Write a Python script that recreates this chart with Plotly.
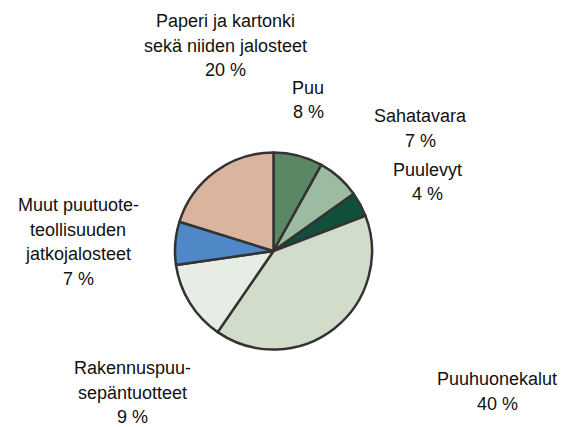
import plotly.graph_objects as go

categories = ["Puu", "Sahatavara", "Puulevyt", "Puuhuonekalut",
              "Rakennuspuusepäntuotteet", "Muut puutuoteteollisuuden jatkojalosteet",
              "Paperi ja kartonki sekä niiden jalosteet"]
slice_values = [8, 7, 4, 40, 13, 7, 20]
label_percent = [8, 7, 4, 40, 9, 7, 20]
label_lines = [
    ["Puu"],
    ["Sahatavara"],
    ["Puulevyt"],
    ["Puuhuonekalut"],
    ["Rakennuspuu-", "sepäntuotteet"],
    ["Muut puutuote-", "teollisuuden", "jatkojalosteet"],
    ["Paperi ja kartonki", "sekä niiden jalosteet"],
]
colors = ["#5b8765", "#9dbba0", "#0f4f3b", "#d1ddca", "#e6ede4", "#5087c6", "#dbb49f"]

W, H = 569, 427
# label anchor (center x, first line center y) in pixels
label_pos = [(308, 88), (420, 116), (427, 170), (497, 379), (132, 368), (78, 205), (225, 21)]
line_h = 24.5

cx, cy, r = 273.5, 251, 98.5
fig = go.Figure(go.Pie(
    labels=categories, values=slice_values, sort=False, direction="clockwise",
    rotation=0, textinfo="none", hoverinfo="label+percent",
    marker=dict(colors=colors, line=dict(color="#333333", width=2.5)),
    domain=dict(x=[(cx - r) / W, (cx + r) / W], y=[1 - (cy + r) / H, 1 - (cy - r) / H]),
    showlegend=False,
))

annotations = []
for lines, pct, (px, py) in zip(label_lines, label_percent, label_pos):
    all_lines = lines + [f"{pct} %"]
    for i, t in enumerate(all_lines):
        annotations.append(dict(
            text=t, x=px / W, y=1 - (py + i * line_h) / H, xref="paper", yref="paper",
            showarrow=False, xanchor="center", yanchor="middle",
            font=dict(family="Liberation Sans, Arial", size=18, color="#111111"),
        ))

fig.update_layout(
    width=W, height=H, margin=dict(l=0, r=0, t=0, b=0),
    paper_bgcolor="white", plot_bgcolor="white", annotations=annotations,
)
fig.write_html("out.html", config={"displayModeBar": False},
               post_script="document.body.style.margin='0';")
